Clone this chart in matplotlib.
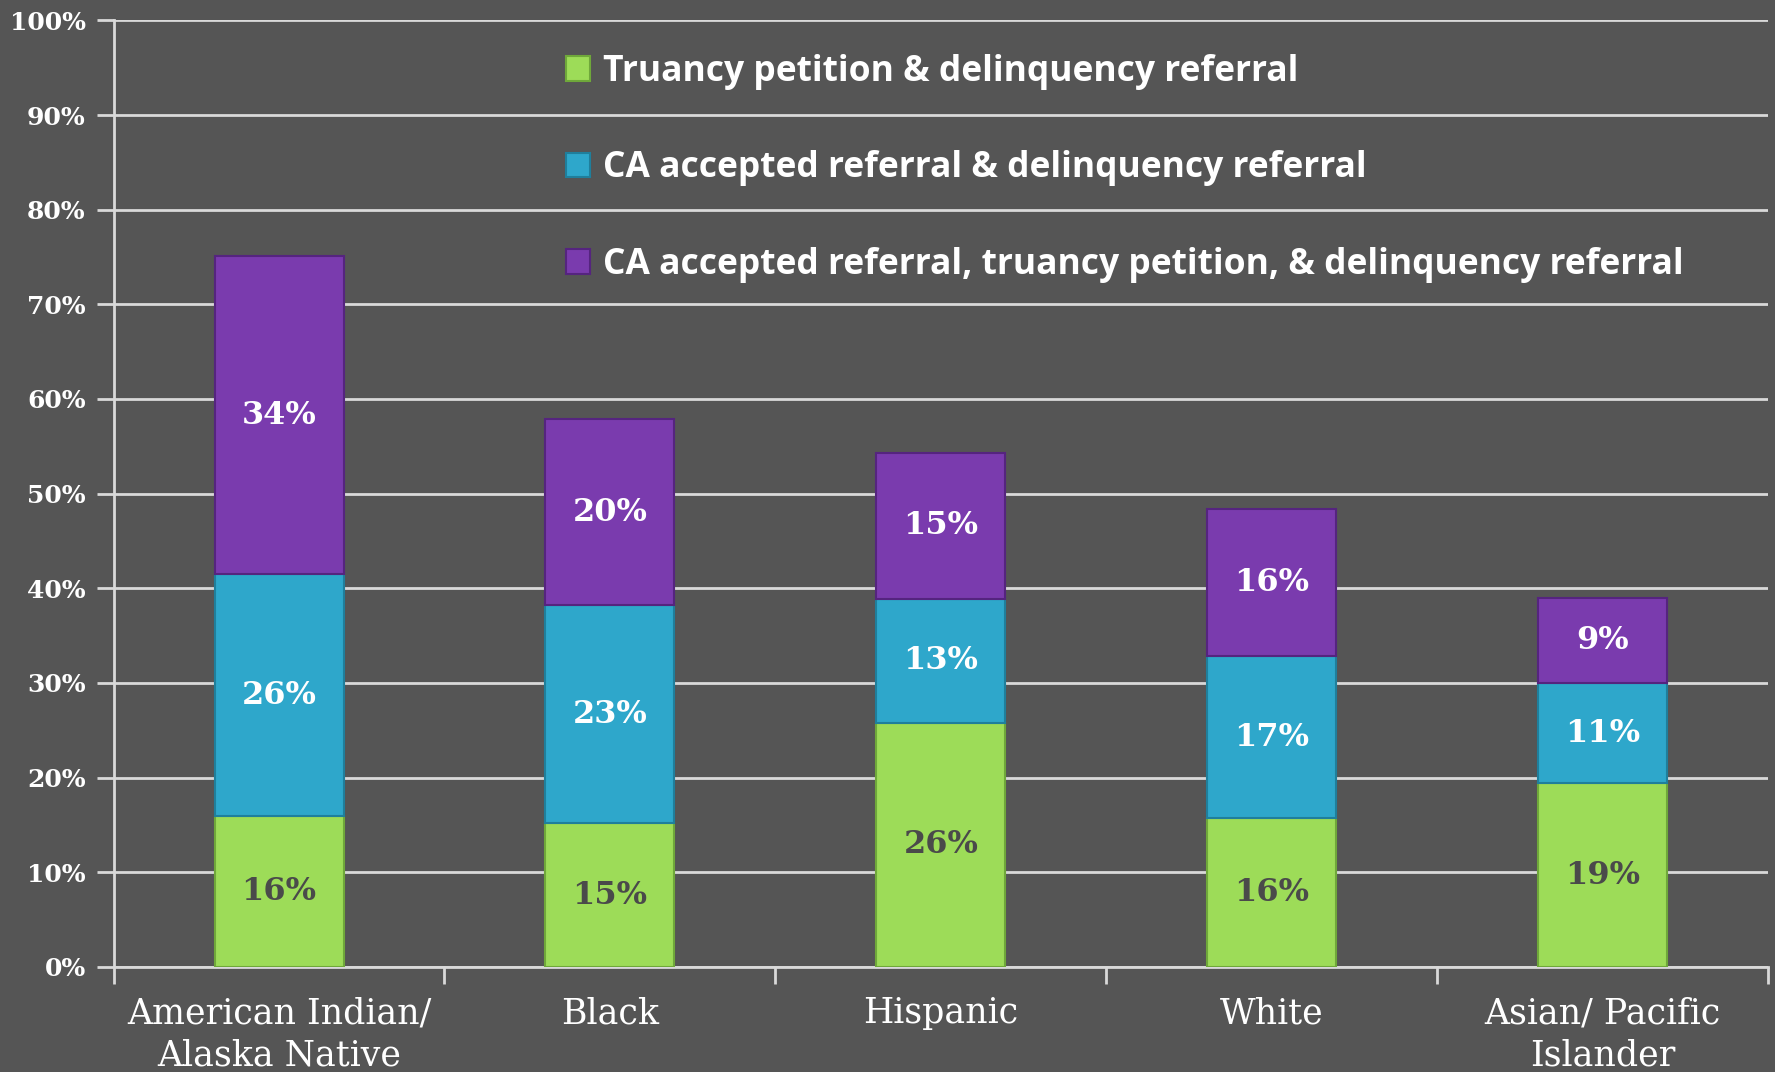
import matplotlib
matplotlib.use("Agg")
import matplotlib.pyplot as plt
from matplotlib.patches import Patch
import numpy as np

categories = ["American Indian/\nAlaska Native", "Black", "Hispanic", "White", "Asian/ Pacific\nIslander"]
series_names = [
    "Truancy petition & delinquency referral",
    "CA accepted referral & delinquency referral",
    "CA accepted referral, truancy petition, & delinquency referral",
]
truancy_delinq = [15.9, 15.2, 25.8, 15.7, 19.4]
ca_delinq = [25.6, 23.0, 13.1, 17.1, 10.6]
ca_truancy_delinq = [33.6, 19.7, 15.4, 15.6, 9.0]
y_ticks = [0, 10, 20, 30, 40, 50, 60, 70, 80, 90, 100]

colors = ["#9ddc58", "#2ea7cb", "#7a3bae"]
edge_colors = ["#6fa83a", "#1f7f9c", "#55247f"]
label_colors = ["#4a4a4a", "white", "white"]
bg = "#555555"
grid_c = "#d9d9d9"

fig = plt.figure(figsize=(17.75, 10.72), dpi=100, facecolor=bg)
ax = fig.add_axes([0.064, 0.098, 0.932, 0.883])
ax.set_facecolor(bg)

x = np.arange(len(categories))
width = 0.39
bottom = np.zeros(len(categories))
for vals, c, ec, lc in zip([truancy_delinq, ca_delinq, ca_truancy_delinq], colors, edge_colors, label_colors):
    vals = np.array(vals)
    ax.bar(x, vals, width, bottom=bottom, color=c, edgecolor=ec, linewidth=1.5, zorder=3)
    for xi, b, v in zip(x, bottom, vals):
        ax.text(xi, b + v / 2, f"{round(v):d}%", ha="center", va="center",
                color=lc, fontsize=23, fontweight="bold", family="DejaVu Serif", zorder=4)
    bottom = bottom + vals

ax.set_xlim(-0.5, len(categories) - 0.5)
ax.set_ylim(0, 100)
ax.set_yticks(y_ticks)
ax.set_yticklabels([f"{t}%" for t in y_ticks], color="white", fontsize=18,
                   fontweight="bold", family="DejaVu Serif")
ax.yaxis.grid(True, color=grid_c, linewidth=2, zorder=0)
ax.set_axisbelow(True)

ax.set_xticks(x)
ax.set_xticklabels(categories, color="white", fontsize=25, family="DejaVu Serif",
                   linespacing=1.3)
ax.tick_params(axis="x", which="major", length=0, pad=21)
ax.set_xticks(np.arange(-0.5, len(categories)), minor=True)
ax.tick_params(axis="x", which="minor", length=12, width=2, color=grid_c)
ax.tick_params(axis="y", length=12, width=2, color=grid_c, pad=8)

for s in ["top", "right"]:
    ax.spines[s].set_visible(False)
for s in ["left", "bottom"]:
    ax.spines[s].set_color(grid_c)
    ax.spines[s].set_linewidth(2)

handles = [Patch(facecolor=c, edgecolor=ec, linewidth=1.5) for c, ec in zip(colors, edge_colors)]
leg = ax.legend(handles, series_names, loc="upper left", bbox_to_anchor=(0.254, 0.998),
                frameon=False, labelspacing=1.70, handlelength=0.7,
                handleheight=0.7, handletextpad=0.35,
                prop={"family": "Open Sans", "weight": "bold", "size": 25.5})
for t in leg.get_texts():
    t.set_color("white")

fig.savefig("out.png", dpi=100, facecolor=bg)
